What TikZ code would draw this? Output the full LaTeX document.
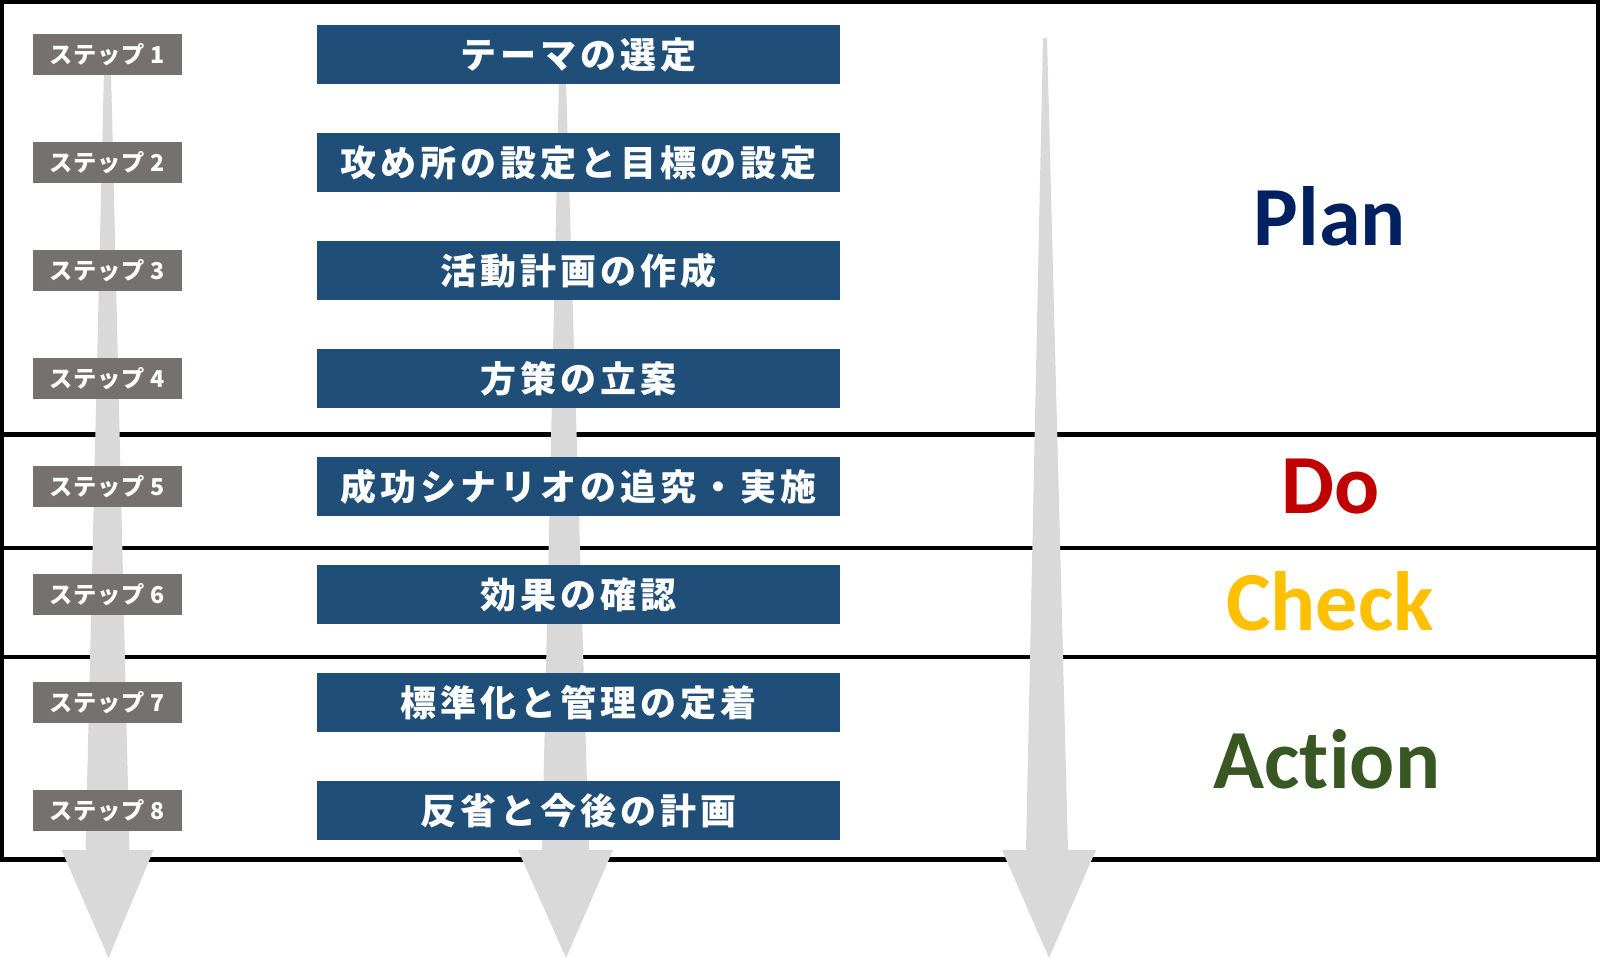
\documentclass[tikz,border=0pt]{standalone}
\usepackage{fontspec}
\usepackage{xcolor}
\usepackage{tikz}
\usetikzlibrary{positioning, calc}

\newfontfamily\jpfont{Noto Sans CJK JP}[LetterSpace=11]
\newfontfamily\jpsmallfont{Noto Sans CJK JP}[LetterSpace=3]
\newfontfamily\latinfont{Carlito}[Ligatures=NoCommon]

\definecolor{stepgray}{HTML}{767171}
\definecolor{taskblue}{HTML}{1F4E79}
\definecolor{arrowgray}{HTML}{D9D9D9}
\definecolor{plancolor}{HTML}{002060}
\definecolor{docolor}{HTML}{C00000}
\definecolor{checkcolor}{HTML}{FFC000}
\definecolor{actioncolor}{HTML}{385723}

\begin{document}
\begin{tikzpicture}[
        x=0.025cm, y=-0.025cm,
        % Style for the grey step labels
        stepcell/.style={
            fill=stepgray,
            text=white,
            minimum width=3.725cm,
            minimum height=1.025cm,
            inner sep=0pt,
            font=\jpsmallfont\bfseries\fontsize{16.5}{19}\selectfont
        },
        % Style for the blue task boxes
        taskcell/.style={
            fill=taskblue,
            text=white,
            minimum width=13.05cm,
            minimum height=1.475cm,
            inner sep=0pt,
            font=\jpfont\bfseries\fontsize{25.6}{30}\selectfont
        },
        % Style for the PDCA words
        phaselabel/.style={
            anchor=base,
            inner sep=0pt,
            font=\latinfont\bfseries\fontsize{59.8}{70}\selectfont
        },
        % Style for the big grey arrows
        flowarrow/.style={
            fill=arrowgray
        },
        frameline/.style={
            line width=3.2pt
        }
    ]
    \useasboundingbox (0,0) rectangle (1600,959);

    % ==========================================
    % FRAME AND PHASE ROWS
    % ==========================================
    \draw[frameline] (2,2) rectangle (1598,859.5);
    \draw[frameline] (2,434.5) -- (1598,434.5);
    \draw[frameline] (2,548) -- (1598,548);
    \draw[frameline] (2,657) -- (1598,657);

    % ==========================================
    % ARROWS (behind the boxes)
    % ==========================================
    \fill[flowarrow] (104,70) -- (111,70) -- (129.5,850) -- (153.5,850)
        -- (108.5,958) -- (61.5,850) -- (85.5,850) -- cycle;
    \fill[flowarrow] (559,80) -- (566,80) -- (589,850) -- (613,850)
        -- (566,958) -- (518,850) -- (542,850) -- cycle;
    \fill[flowarrow] (1043,38) -- (1047,38) -- (1068,850) -- (1096,850)
        -- (1049,958) -- (1002,850) -- (1026,850) -- cycle;

    % ==========================================
    % STEP LABELS
    % ==========================================
    \node[stepcell] (step1) at (107.5,54.5) {ステップ 1};
    \node[stepcell] (step2) at (107.5,162.5) {ステップ 2};
    \node[stepcell] (step3) at (107.5,270.5) {ステップ 3};
    \node[stepcell] (step4) at (107.5,378.5) {ステップ 4};
    \node[stepcell] (step5) at (107.5,486.5) {ステップ 5};
    \node[stepcell] (step6) at (107.5,594.5) {ステップ 6};
    \node[stepcell] (step7) at (107.5,702.5) {ステップ 7};
    \node[stepcell] (step8) at (107.5,810.5) {ステップ 8};

    % ==========================================
    % TASK BOXES
    % ==========================================
    \node[taskcell] (task1) at (578.5,54.5) {テーマの選定};
    \node[taskcell] (task2) at (578.5,162.5) {攻め所の設定と目標の設定};
    \node[taskcell] (task3) at (578.5,270.5) {活動計画の作成};
    \node[taskcell] (task4) at (578.5,378.5) {方策の立案};
    \node[taskcell] (task5) at (578.5,486.5) {成功シナリオの追究・実施};
    \node[taskcell] (task6) at (578.5,594.5) {効果の確認};
    \node[taskcell] (task7) at (578.5,702.5) {標準化と管理の定着};
    \node[taskcell] (task8) at (578.5,810.5) {反省と今後の計画};

    % ==========================================
    % PDCA LABELS
    % ==========================================
    \node[phaselabel, text=plancolor] (plan) at (1330,245) {Plan};
    \node[phaselabel, text=docolor] (do) at (1331,513) {Do};
    \node[phaselabel, text=checkcolor] (check) at (1330,630) {Check};
    \node[phaselabel, text=actioncolor] (action) at (1327,788) {Action};
\end{tikzpicture}
\end{document}
